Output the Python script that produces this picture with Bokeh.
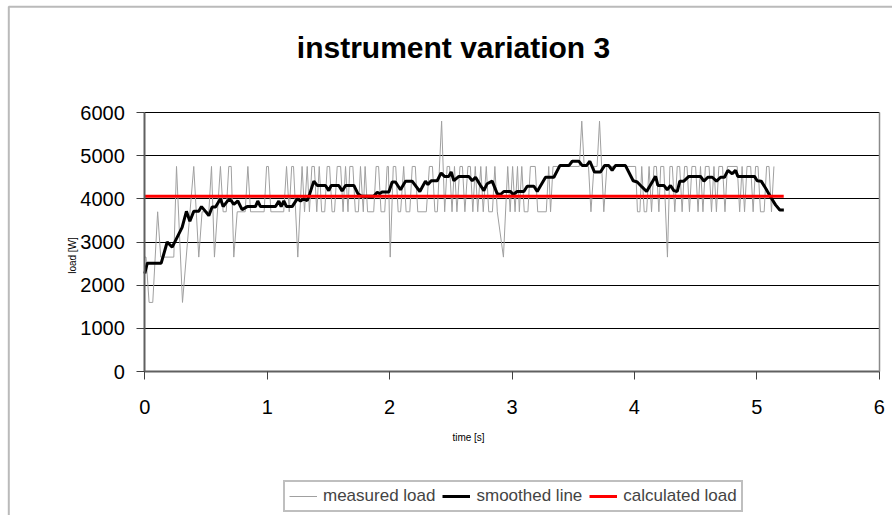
import math
from bokeh.plotting import figure
from bokeh.models import (Range1d, Legend, LegendItem, FixedTicker, Label,
                          LinearAxis, BoxAnnotation)
from bokeh.embed import file_html
from bokeh.resources import INLINE

# ---------------- data ----------------
title_text = "instrument variation 3"
x_label = "time [s]"
y_label = "load [W]"
x_ticks = [0, 1, 2, 3, 4, 5, 6]
y_ticks = [0, 1000, 2000, 3000, 4000, 5000, 6000]
x_limits = (0, 6)
y_limits = (0, 6000)

measured_points = [
    (0.000, 2650), (0.010, 2650), (0.035, 1600), (0.065, 1600), (0.105, 3700),
    (0.130, 2650), (0.237, 2650), (0.259, 4750), (0.308, 1600), (0.400, 4750),
    (0.441, 2650), (0.468, 3700), (0.523, 3700), (0.545, 4750), (0.569, 2650),
    (0.618, 4750), (0.640, 3700), (0.665, 3700), (0.686, 4750), (0.706, 4750),
    (0.727, 2650), (0.755, 3700), (0.820, 3700), (0.842, 4750), (0.864, 3700),
    (0.975, 3700), (0.995, 4750), (1.010, 4750), (1.030, 3700), (1.135, 3700),
    (1.158, 4750), (1.180, 3700), (1.200, 4750), (1.215, 4750), (1.250, 2650),
    (1.285, 4750), (1.305, 3700), (1.327, 4750), (1.345, 3700), (1.365, 4750),
    (1.385, 4750), (1.405, 3700), (1.425, 4750), (1.445, 3700), (1.470, 3700),
    (1.490, 4750), (1.510, 4750), (1.530, 3700), (1.550, 3700), (1.572, 4750),
    (1.600, 4750), (1.620, 3700), (1.640, 4750), (1.660, 3700), (1.675, 4750),
    (1.700, 4750), (1.720, 3700), (1.745, 3700), (1.762, 4750), (1.785, 3700),
    (1.800, 4750), (1.820, 3700), (1.870, 3700), (1.890, 4750), (1.910, 4750),
    (1.930, 3700), (1.960, 3700), (1.980, 4750), (1.990, 4750), (2.005, 2650),
    (2.030, 4750), (2.050, 4750), (2.070, 3700), (2.090, 3700), (2.115, 4750),
    (2.135, 3700), (2.165, 3700), (2.185, 4750), (2.210, 4750), (2.230, 3700),
    (2.300, 3700), (2.325, 4750), (2.350, 4750), (2.370, 3700), (2.390, 3700),
    (2.425, 5800), (2.450, 3700), (2.470, 4750), (2.490, 4750), (2.510, 3700),
    (2.530, 4750), (2.550, 3700), (2.575, 4750), (2.595, 4750), (2.615, 3700),
    (2.640, 4750), (2.660, 4750), (2.680, 3700), (2.700, 4750), (2.720, 3700),
    (2.745, 4750), (2.765, 3700), (2.790, 4750), (2.810, 3700), (2.840, 3700),
    (2.860, 4750), (2.880, 3700), (2.930, 2650), (2.965, 4750), (2.985, 3700),
    (3.005, 4750), (3.025, 3700), (3.045, 4750), (3.060, 3700), (3.080, 4750),
    (3.100, 3700), (3.130, 3700), (3.150, 4750), (3.190, 4750), (3.210, 3700),
    (3.280, 3700), (3.300, 4750), (3.315, 3700), (3.335, 4750), (3.550, 4750),
    (3.570, 5800), (3.590, 4750), (3.625, 4750), (3.645, 3700), (3.670, 4750),
    (3.695, 4750), (3.715, 5800), (3.750, 3700), (3.775, 4750), (4.010, 4750),
    (4.025, 3700), (4.045, 3700), (4.060, 4750), (4.080, 3700), (4.100, 3700),
    (4.120, 4750), (4.140, 3700), (4.160, 4750), (4.180, 4750), (4.200, 3700),
    (4.215, 4750), (4.240, 4750), (4.270, 2650), (4.290, 4750), (4.310, 4750),
    (4.330, 3700), (4.350, 4750), (4.370, 4750), (4.390, 3700), (4.410, 4750),
    (4.430, 4750), (4.450, 3700), (4.470, 4750), (4.500, 4750), (4.520, 3700),
    (4.540, 4750), (4.560, 3700), (4.580, 4750), (4.610, 4750), (4.630, 3700),
    (4.650, 4750), (4.670, 3700), (4.690, 4750), (4.720, 4750), (4.740, 3700),
    (4.760, 4750), (4.840, 4750), (4.860, 3700), (4.880, 4750), (4.900, 3700),
    (4.920, 4750), (4.950, 4750), (4.970, 3700), (4.990, 4750), (5.010, 4750),
    (5.030, 3700), (5.060, 3700), (5.080, 4750), (5.100, 4750), (5.120, 3700),
    (5.140, 4750),
]

smoothed_points = [
    (0.000, 2270), (0.020, 2510), (0.134, 2510), (0.183, 3000), (0.224, 2880),
    (0.305, 3340), (0.340, 3710), (0.368, 3480), (0.400, 3710), (0.441, 3710),
    (0.463, 3820), (0.496, 3710), (0.523, 3610), (0.550, 3810), (0.578, 3810),
    (0.618, 4000), (0.640, 3820), (0.678, 3960), (0.706, 3960), (0.727, 3870),
    (0.760, 3950), (0.795, 3750), (0.836, 3820), (0.904, 3820), (0.923, 3950),
    (0.945, 3820), (1.068, 3820), (1.095, 3950), (1.114, 3820), (1.136, 3950),
    (1.158, 3820), (1.204, 3820), (1.245, 4000), (1.272, 3950), (1.299, 4000),
    (1.327, 3960), (1.348, 4120), (1.381, 4410), (1.408, 4310), (1.476, 4310),
    (1.503, 4190), (1.523, 4310), (1.585, 4310), (1.612, 4180), (1.640, 4310),
    (1.708, 4310), (1.741, 4120), (1.770, 4060), (1.870, 4060), (1.899, 4150),
    (1.920, 4120), (1.939, 4160), (1.994, 4160), (2.021, 4390), (2.048, 4390),
    (2.089, 4210), (2.130, 4410), (2.184, 4410), (2.247, 4170), (2.293, 4410),
    (2.313, 4330), (2.340, 4420), (2.389, 4420), (2.421, 4600), (2.448, 4520),
    (2.484, 4520), (2.503, 4620), (2.525, 4420), (2.566, 4520), (2.647, 4520),
    (2.675, 4420), (2.702, 4500), (2.743, 4310), (2.770, 4190), (2.797, 4350),
    (2.838, 4410), (2.879, 4120), (2.906, 4100), (2.933, 4170), (2.988, 4170),
    (3.010, 4100), (3.042, 4170), (3.097, 4170), (3.124, 4290), (3.179, 4290),
    (3.206, 4170), (3.274, 4500), (3.342, 4500), (3.391, 4770), (3.465, 4770),
    (3.492, 4870), (3.546, 4870), (3.574, 4770), (3.609, 4770), (3.636, 4870),
    (3.674, 4620), (3.723, 4620), (3.756, 4770), (3.791, 4770), (3.818, 4660),
    (3.845, 4770), (3.927, 4770), (3.990, 4420), (4.023, 4390), (4.064, 4270),
    (4.100, 4170), (4.137, 4350), (4.173, 4520), (4.192, 4310), (4.241, 4310),
    (4.268, 4210), (4.295, 4310), (4.322, 4190), (4.350, 4170), (4.371, 4410),
    (4.404, 4410), (4.445, 4520), (4.540, 4520), (4.568, 4410), (4.600, 4500),
    (4.636, 4500), (4.671, 4410), (4.704, 4500), (4.736, 4500), (4.764, 4660),
    (4.799, 4580), (4.826, 4660), (4.845, 4520), (4.981, 4520), (5.003, 4420),
    (5.036, 4410), (5.071, 4250), (5.112, 4050), (5.153, 3860), (5.188, 3740),
    (5.221, 3740),
]

calculated_t = [0.0, 5.22]
calculated_v = [4060, 4060]

meas_t = [t for t, _ in measured_points]
meas_v = [v for _, v in measured_points]
smooth_t = [t for t, _ in smoothed_points]
smooth_v = [v for _, v in smoothed_points]

# ---------------- layout (pixels on the 892x515 page) ----------------
W, H = 892, 515
PA_LEFT, PA_RIGHT = 144.3, 878.7      # plot area left/right edge
PA_TOP, PA_BOTTOM = 112.0, 371.0      # plot area top/bottom edge
FONT = "Liberation Sans"

def X(px):
    return x_limits[0] + (px - PA_LEFT) * (x_limits[1] - x_limits[0]) / (PA_RIGHT - PA_LEFT)

def Y(py):
    return y_limits[0] + (PA_BOTTOM - py) * (y_limits[1] - y_limits[0]) / (PA_BOTTOM - PA_TOP)

p = figure(width=W, height=H, output_backend="svg", toolbar_location=None,
           x_range=Range1d(X(0), X(W)), y_range=Range1d(Y(H), Y(0)),
           min_border=0)
p.background_fill_color = "white"
p.border_fill_color = "white"
p.outline_line_color = None

# outer chart border (left & top edges visible in the window)
p.add_layout(BoxAnnotation(left=X(8.3), right=X(W + 20), top=Y(6.2), bottom=Y(H + 20),
                           fill_alpha=0, line_color="#1a1a1a", line_width=2))

# grid
p.xgrid.visible = False
p.ygrid.ticker = FixedTicker(ticks=y_ticks)
p.ygrid.grid_line_color = "#000000"
p.ygrid.grid_line_width = 1
p.ygrid.cross_bounds = x_limits

# axes fixed at the data origin
xa = p.xaxis[0]
ya = p.yaxis[0]
xa.fixed_location = y_limits[0]
ya.fixed_location = x_limits[0]
xa.bounds = x_limits
ya.bounds = y_limits
xa.ticker = FixedTicker(ticks=x_ticks)
ya.ticker = FixedTicker(ticks=y_ticks)
for ax in (xa, ya):
    ax.axis_line_color = "#606060"
    ax.axis_line_width = 2
    ax.major_tick_line_color = "#404040"
    ax.major_tick_line_width = 1
    ax.major_tick_in = 0
    ax.major_tick_out = 8
    ax.minor_tick_line_color = None
    ax.major_label_text_font = FONT
    ax.major_label_text_font_size = "20px"
    ax.major_label_text_color = "#000000"
xa.major_label_standoff = 20
ya.major_label_standoff = 12

# right edge of the plot area
ra = LinearAxis(fixed_location=x_limits[1], bounds=y_limits,
                ticker=FixedTicker(ticks=[]), axis_line_color="#8a8a8a",
                axis_line_width=1.5, major_tick_line_color=None,
                minor_tick_line_color=None, major_label_text_font_size="0px")
p.add_layout(ra, "right")

r_meas = p.line(meas_t, meas_v, line_color="#a0a0a0", line_width=1)
r_smooth = p.line(smooth_t, smooth_v, line_color="#000000", line_width=3)
r_calc = p.line(calculated_t, calculated_v, line_color="#ff0000", line_width=3)

# titles
p.add_layout(Label(x=X(453), y=Y(47), text=title_text, text_font=FONT,
                   text_font_size="30px", text_font_style="bold",
                   text_color="#000000", text_align="center", text_baseline="middle"))
p.add_layout(Label(x=X(72), y=Y(255), text=y_label, text_font=FONT,
                   text_font_size="10px", angle=math.pi / 2, text_color="#000000",
                   text_align="center", text_baseline="middle"))
p.add_layout(Label(x=X(468), y=Y(437), text=x_label, text_font=FONT,
                   text_font_size="10px", text_color="#000000",
                   text_align="center", text_baseline="middle"))

legend = Legend(items=[LegendItem(label="measured load", renderers=[r_meas]),
                       LegendItem(label="smoothed line", renderers=[r_smooth]),
                       LegendItem(label="calculated load", renderers=[r_calc])],
                orientation="horizontal", location=(283, 3),
                label_text_font=FONT, label_text_font_size="17px",
                border_line_color="#808080", border_line_width=2,
                padding=4, spacing=7, glyph_width=28, glyph_height=20,
                label_height=20, label_standoff=6, margin=0,
                background_fill_color="white", background_fill_alpha=1)
p.add_layout(legend, "center")

open("out.html", "w").write(file_html(p, INLINE))
